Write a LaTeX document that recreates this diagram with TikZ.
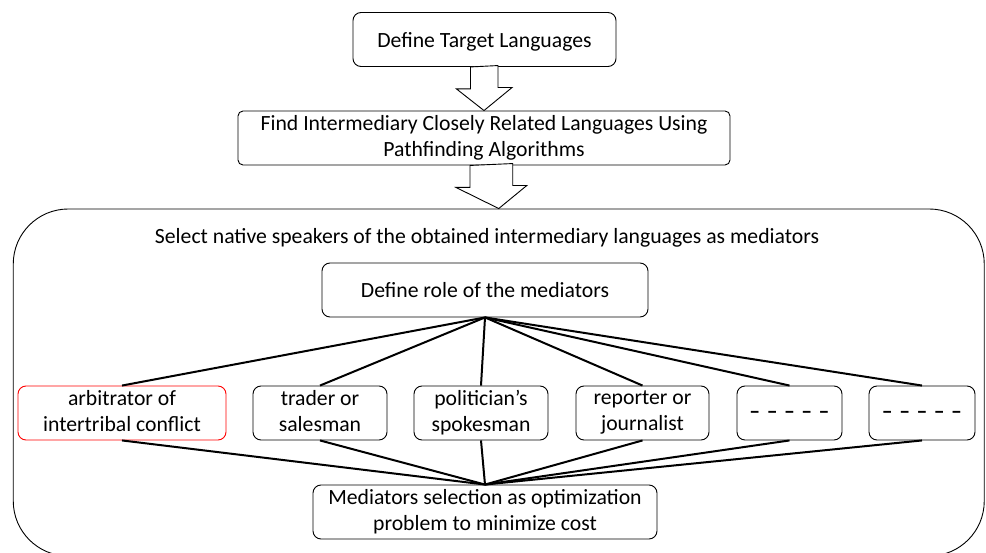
\documentclass[tikz,border=0pt]{standalone}
\usepackage{fontspec}
\setmainfont{Carlito}
\newcommand\boxstrut{\rule[-5pt]{0pt}{26pt}}

\begin{document}
\begin{tikzpicture}[
    x=1pt, y=-1pt,
    stage/.style={rectangle, draw, line width=0.9pt, rounded corners=8pt, minimum height=54pt,
                  inner sep=2pt, align=center, fill=white, font=\fontsize{21.7}{26}\selectfont,
                  execute at begin node=\boxstrut, execute at end node=\boxstrut},
    role/.style={stage, minimum width=#1},
    link/.style={draw, line width=2pt},
    hollow/.style={draw, fill=white, line width=0.9pt, line join=miter}
]
  \useasboundingbox (0,0) rectangle (986,553);
  \clip (0,0) rectangle (986,553);

  % Outer frame holding the mediator stage; its bottom runs past the page.
  \node[draw, line width=0.9pt, rounded corners=55pt, minimum width=971pt, minimum height=347pt]
    (outer) at (498.75, 382.5) {};
  \node[font=\fontsize{21.7}{26}\selectfont] (title) at (487, 238)
    {Select native speakers of the obtained intermediary languages as mediators};

  \node[role=263pt] (define) at (484.5, 39.5) {Define Target Languages};
  \node[role=492pt, rounded corners=5pt] (find) at (484, 138)
    {Find Intermediary Closely Related Languages Using\\Pathfinding Algorithms};
  \node[role=326pt] (mediate) at (485, 290) {Define role of the mediators};
  \node[role=344pt] (select) at (485, 512)
    {Mediators selection as optimization\\problem to minimize cost};

  % Hollow block arrows between the stages.
  \foreach \a/\b in {define/find, find/outer} {
    \draw[hollow] (\a.south) ++(-14,0) -- ++(0,22) -- ++(-14,0) -- (\b.north)
      -- ++(28,-23) -- ++(-14,0) -- ++(0,-22) -- cycle;
  }

  % One box per role, each tied to both stages.
  \foreach \name/\x/\w/\c/\txt in {
      arbiter/122/208/red/{arbitrator of\\intertribal conflict},
      trader/320/134/black/{trader or\\salesman},
      speaker/481/134/black/{politician’s\\spokesman},
      reporter/642.5/133/black/{reporter or\\journalist},
      extraA/789.5/105/black/{\bfseries\raisebox{2pt}{--\hspace{6.5pt}--\hspace{6.5pt}--\hspace{6.5pt}--\hspace{6.5pt}--}},
      extraB/922/106/black/{\bfseries\raisebox{2pt}{--\hspace{6.5pt}--\hspace{6.5pt}--\hspace{6.5pt}--\hspace{6.5pt}--}}} {
    \node[role=\w pt, draw=\c] (\name) at (\x, 413) {\txt};
    \draw[link] (mediate.south) -- (\name.north);
    \draw[link] (\name.south) -- (select.north);
  }
\end{tikzpicture}
\end{document}
